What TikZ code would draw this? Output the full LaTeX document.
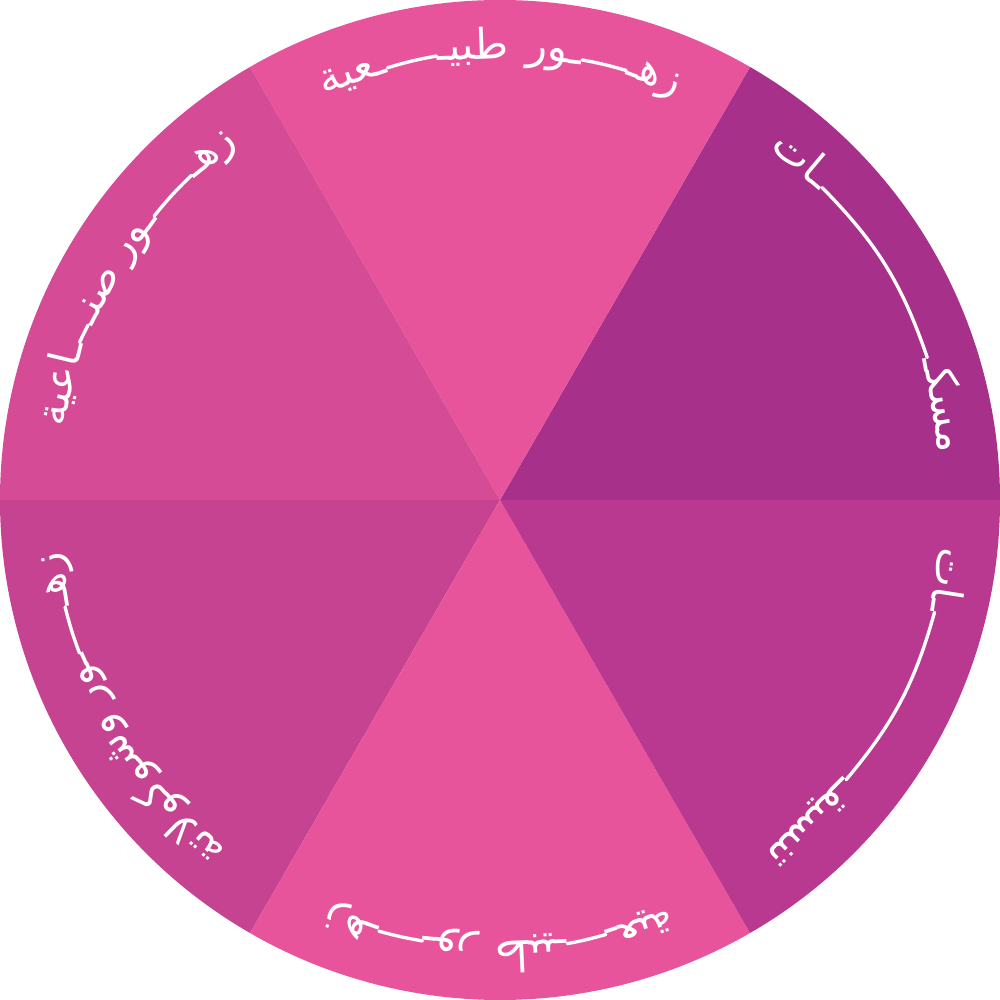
\documentclass[tikz,border=0pt]{standalone}
\usepackage{fontspec}
\newfontfamily\arabicfont[Script=Arabic]{DejaVu Sans}
\TeXXeTstate=1
\usetikzlibrary{calc}
\definecolor{wheelpink}{HTML}{E8549B}
\definecolor{wheelplum}{HTML}{A6308A}
\definecolor{wheelmagenta}{HTML}{B8398F}
\definecolor{wheelberry}{HTML}{C64391}
\definecolor{wheelrose}{HTML}{D64B95}
\newcommand{\ar}[1]{\raisebox{-1.3pt}{\beginR #1\endR}}

\begin{document}
\begin{tikzpicture}[
    arabtext/.style={text=white, inner sep=0pt, font=\arabicfont\fontsize{12}{14}\selectfont},
    kashida/.style={draw=white, line width=0.95pt, line cap=round}
  ]
  \useasboundingbox (-5,-5) rectangle (5,5);

  % wheel sectors
  \foreach \a/\c in {0/wheelplum, 60/wheelpink, 120/wheelrose, 180/wheelberry, 240/wheelpink, 300/wheelmagenta}
    \fill[\c] (0,0) -- (\a:5) arc[start angle=\a, end angle=\a+60, radius=5] -- cycle;

  % top
  \node[arabtext, rotate=18.75, anchor=base west] (natA) at (113.5:4.47) {\ar{ـعية}};
  \node[arabtext, rotate=2.3, anchor=base east] (natB) at (88.8:4.47) {\ar{طبيـ}};
  \node[arabtext, rotate=-6.3, anchor=base west] (natC) at (86.6:4.47) {\ar{ـور}};
  \node[arabtext, rotate=-20.7, anchor=base east] (natD) at (66.4:4.47) {\ar{زهـ}};
  \draw[kashida] let \p1=(natA.base east), \p2=(natB.base west), \n1={(atan2(\y1,\x1)-atan2(\y2,\x2))/2}
    in (\p1) to[bend left=\n1] (\p2);
  \draw[kashida] let \p1=(natC.base east), \p2=(natD.base west), \n1={(atan2(\y1,\x1)-atan2(\y2,\x2))/2}
    in (\p1) to[bend left=\n1] (\p2);

  % top right
  \node[arabtext, rotate=-40.1, anchor=base west] (muskA) at (52.6:4.47) {\ar{ـات}};
  \node[arabtext, rotate=-79.75, anchor=base east] (muskB) at (6:4.47) {\ar{مسكـ}};
  \draw[kashida] let \p1=(muskA.base east), \p2=(muskB.base west), \n1={(atan2(\y1,\x1)-atan2(\y2,\x2))/2}
    in (\p1) to[bend left=\n1] (\p2);

  % bottom right
  \node[arabtext, rotate=-98.7, anchor=base west] (tansA) at (-6:4.47) {\ar{ـات}};
  \node[arabtext, rotate=-135, anchor=base east] (tansB) at (-53.1:4.47) {\ar{تنسيقـ}};
  \draw[kashida] let \p1=(tansA.base east), \p2=(tansB.base west), \n1={(atan2(\y1,\x1)-atan2(\y2,\x2))/2}
    in (\p1) to[bend left=\n1] (\p2);

  % bottom
  \node[arabtext, rotate=-161.65, anchor=base west] (botA) at (-67.4:4.47) {\ar{ـعية}};
  \node[arabtext, rotate=-177.4, anchor=base east] (botB) at (-90.7:4.47) {\ar{طبيـ}};
  \node[arabtext, rotate=-185.7, anchor=base west] (botC) at (-92.8:4.47) {\ar{ـور}};
  \node[arabtext, rotate=-200.2, anchor=base east] (botD) at (-112.9:4.47) {\ar{زهـ}};
  \draw[kashida] let \p1=(botA.base east), \p2=(botB.base west), \n1={(atan2(\y1,\x1)-atan2(\y2,\x2))/2}
    in (\p1) to[bend left=\n1] (\p2);
  \draw[kashida] let \p1=(botC.base east), \p2=(botD.base west), \n1={(atan2(\y1,\x1)-atan2(\y2,\x2))/2}
    in (\p1) to[bend left=\n1] (\p2);

  % bottom left
  \node[arabtext, rotate=-219.5, anchor=base west] (choA) at (-127.9:4.47) {\ar{تة}};
  \path let \p1=(choA.base east), \n1={atan2(\y1,\x1)} in
    node[arabtext, rotate=\n1-92, anchor=base west] (choB) at (\p1) {\ar{لا}};
  \path let \p1=(choB.base east), \n1={atan2(\y1,\x1)} in
    node[arabtext, rotate=\n1-92, anchor=base west] (choC) at (\p1) {\ar{كو}};
  \path let \p1=(choC.base east), \n1={atan2(\y1,\x1)} in
    node[arabtext, rotate=\n1-92.5, anchor=base west] (choD) at (\p1) {\ar{شو}};
  \path let \p1=(choD.base east), \n1={atan2(\y1,\x1)} in
    node[arabtext, rotate=\n1-91.5, anchor=base west] (choE) at (\p1) {\ar{و}};
  \path let \p1=(choE.base east), \n1={atan2(\y1,\x1)-1.3} in
    node[arabtext, rotate=\n1-93, anchor=base west] (choF) at (\n1:4.47) {\ar{ـور}};
  \node[arabtext, rotate=-260.7, anchor=base east] (choG) at (-173.4:4.47) {\ar{زهـ}};
  \draw[kashida] let \p1=(choF.base east), \p2=(choG.base west), \n1={(atan2(\y1,\x1)-atan2(\y2,\x2))/2}
    in (\p1) to[bend left=\n1] (\p2);

  % top left
  \node[arabtext, rotate=76.35, anchor=base west] (artA) at (170.6:4.47) {\ar{ـاعية}};
  \node[arabtext, rotate=62.5, anchor=base east] (artB) at (149:4.47) {\ar{صنـ}};
  \node[arabtext, rotate=54.7, anchor=base west] (artC) at (147.8:4.47) {\ar{ـور}};
  \node[arabtext, rotate=39, anchor=base east] (artD) at (126.3:4.47) {\ar{زهـ}};
  \draw[kashida] let \p1=(artA.base east), \p2=(artB.base west), \n1={(atan2(\y1,\x1)-atan2(\y2,\x2))/2}
    in (\p1) to[bend left=\n1] (\p2);
  \draw[kashida] let \p1=(artC.base east), \p2=(artD.base west), \n1={(atan2(\y1,\x1)-atan2(\y2,\x2))/2}
    in (\p1) to[bend left=\n1] (\p2);
\end{tikzpicture}
\end{document}
